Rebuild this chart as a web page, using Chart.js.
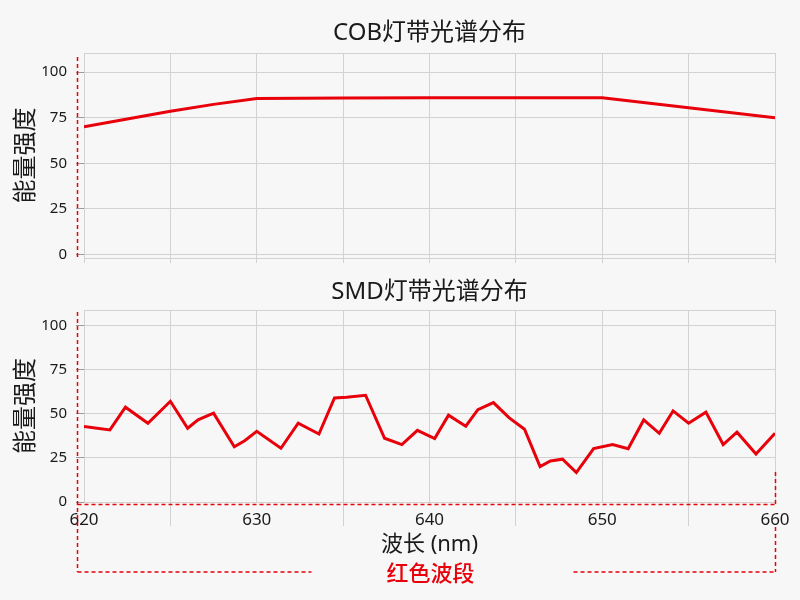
<!DOCTYPE html>
<html>
<head>
<meta charset="utf-8">
<script src="https://cdn.jsdelivr.net/npm/chart.js@4.4.1/dist/chart.umd.min.js"></script>
<style>
  html, body { margin: 0; padding: 0; background: #f7f7f7; }
  #wrap { position: relative; width: 800px; height: 600px; background: #f7f7f7; overflow: hidden; }
  canvas { position: absolute; left: 0; }
  #c1 { top: 0; }
  #c2 { top: 270px; }
</style>
</head>
<body>
<div id="wrap">
  <canvas id="c1" width="800" height="270"></canvas>
  <canvas id="c2" width="800" height="330"></canvas>
</div>
<script>
// ---- Data ----
const cobTitle = 'COB灯带光谱分布';
const smdTitle = 'SMD灯带光谱分布';
const yAxisTitle = '能量强度';
const xAxisTitle = '波长 (nm)';
const bandLabel = '红色波段';

const cobWavelength = [620, 622.5, 625, 627.5, 630, 635, 640, 645, 650, 655, 660];
const cobIntensity  = [70, 74.3, 78.5, 82.3, 85.5, 85.8, 86, 86, 86, 80.5, 75];

const smdWavelength = [620, 621.5, 622.4, 623.7, 625, 626, 626.6, 627.5, 628.7, 629.3,
                       630, 631.4, 632.4, 633.6, 634.5, 635.2, 636.3, 637.4, 638.4, 639.3,
                       640.3, 641.1, 642.1, 642.8, 643.7, 644.6, 645.5, 646.4, 647, 647.7,
                       648.5, 649.5, 650.6, 651.5, 652.4, 653.3, 654.1, 655, 656, 657,
                       657.8, 658.9, 660];
const smdIntensity  = [42.8, 40.9, 53.8, 44.7, 57.2, 41.9, 46.6, 50.4, 31.4, 34.8,
                       40.1, 30.5, 44.7, 38.6, 59.1, 59.5, 60.6, 36.2, 32.6, 40.7,
                       36, 49.3, 43, 52.4, 56.4, 47.9, 41.3, 20.1, 23.3, 24.3,
                       16.7, 30.3, 32.6, 30.3, 46.6, 39, 51.7, 44.7, 51, 32.6,
                       39.6, 27.3, 39];

const xMin = 620, xMax = 660, xStep = 5, xLabelStep = 10;
const yTickValues = [0, 25, 50, 75, 100];

// ---- Styles ----
const RED = '#e8000b';
const GRID = '#d2d2d2';
const TEXT = '#1a1a1a';
const FONT = "'Noto Sans', 'Noto Sans CJK SC', sans-serif";

const notesPlugin = {
  id: 'notes',
  beforeDatasetsDraw(chart) {
    const { ctx, chartArea: a } = chart;
    ctx.save();
    ctx.strokeStyle = GRID;
    ctx.lineWidth = 1;
    ctx.strokeRect(Math.round(a.left) + 0.5, Math.round(a.top) + 0.5,
                   Math.round(a.right - a.left), Math.round(a.bottom - a.top));
    ctx.restore();
  },
  afterDraw(chart, args, opts) {
    const { ctx, chartArea: a, height: H } = chart;
    const seg = (x1, y1, x2, y2) => { ctx.beginPath(); ctx.moveTo(x1, y1); ctx.lineTo(x2, y2); ctx.stroke(); };
    const cx = (a.left + a.right) / 2;
    ctx.save();
    // chart title centred over the plot area
    ctx.fillStyle = TEXT;
    ctx.font = "24px " + FONT;
    ctx.textAlign = 'center';
    ctx.textBaseline = 'middle';
    ctx.fillText(opts.title, cx, a.top - opts.titleGap);

    ctx.strokeStyle = RED;
    ctx.lineWidth = 1.5;
    ctx.setLineDash([4, 3]);
    const lx = Math.round(a.left) - 6.5;
    if (opts.kind === 'top') {
      seg(lx, a.top + 4, lx, a.bottom);
    } else {
      const by = H - 28;
      const rx = Math.round(a.right) + 0.5;
      seg(lx, a.top + 2, lx, by);
      seg(lx, a.bottom + 2.5, a.right, a.bottom + 2.5);
      seg(rx, a.bottom - 30, rx, a.bottom + 3);
      seg(rx, a.bottom + 25, rx, by);
      seg(lx, by, cx - 118, by);
      seg(cx + 144, by, rx, by);
      ctx.setLineDash([]);
      ctx.fillStyle = RED;
      ctx.font = "500 22px 'Noto Sans CJK SC', sans-serif";
      ctx.fillText(bandLabel, cx + 1, by + 1);
    }
    ctx.restore();
  }
};

function makeChart(canvasId, xs, ys, title, kind, yMin, yMax) {
  const isBottom = kind === 'bottom';
  const points = xs.map((x, i) => ({ x: x, y: ys[i] }));
  return new Chart(document.getElementById(canvasId), {
    type: 'line',
    data: {
      datasets: [{
        data: points,
        borderColor: RED,
        borderWidth: 3,
        pointRadius: 0,
        tension: 0,
        fill: false
      }]
    },
    options: {
      responsive: false,
      animation: false,
      devicePixelRatio: 1,
      layout: { padding: { left: 0, right: 25, top: isBottom ? 40 : 53, bottom: 0 } },
      plugins: {
        legend: { display: false },
        tooltip: { enabled: false },
        title: { display: false },
        notes: { kind: kind, title: title, titleGap: isBottom ? 18 : 20 }
      },
      scales: {
        x: {
          type: 'linear',
          min: xMin, max: xMax,
          afterFit: s => { s.height = isBottom ? 98 : 12; s.paddingLeft = 0; s.paddingRight = 0; },
          ticks: {
            display: isBottom,
            stepSize: xStep,
            includeBounds: false,
            padding: -16,
            color: TEXT,
            font: { family: FONT, size: 17 },
            maxRotation: 0,
            autoSkip: false,
            callback: v => (v % xLabelStep === 0 ? String(v) : '')
          },
          grid: {
            color: GRID,
            lineWidth: 1,
            drawTicks: true,
            tickLength: isBottom ? 24 : 5,
            tickColor: ctx => (isBottom && ctx.tick && ctx.tick.value % xLabelStep === 0) ? 'rgba(0,0,0,0)' : GRID
          },
          border: { display: true, color: GRID },
          title: isBottom ? {
            display: true,
            text: xAxisTitle,
            color: TEXT,
            font: { family: FONT, size: 22 },
            padding: { top: 0, bottom: 42 }
          } : { display: false }
        },
        y: {
          min: yMin, max: yMax,
          afterFit: s => { s.width = 84; s.paddingTop = 0; s.paddingBottom = 0; },
          afterBuildTicks: s => { s.ticks = yTickValues.map(v => ({ value: v })); },
          ticks: {
            color: TEXT,
            font: { family: FONT, size: 15 },
            padding: 9
          },
          grid: {
            color: GRID,
            lineWidth: 1,
            drawTicks: true,
            tickLength: 8,
            tickColor: '#9a9a9a'
          },
          border: { display: true, color: GRID },
          title: {
            display: true,
            text: yAxisTitle,
            color: TEXT,
            font: { family: FONT, size: 24 },
            padding: { top: 12, bottom: 0 }
          }
        }
      }
    },
    plugins: [notesPlugin]
  });
}

makeChart('c1', cobWavelength, cobIntensity, cobTitle, 'top', -2, 110.5);
makeChart('c2', smdWavelength, smdIntensity, smdTitle, 'bottom', 0, 109);
</script>
</body>
</html>
